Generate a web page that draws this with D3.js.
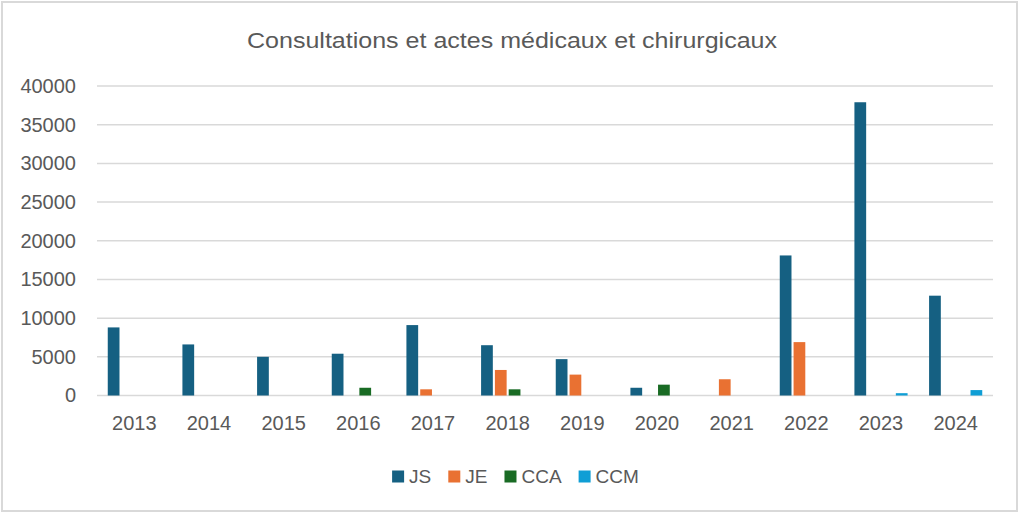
<!DOCTYPE html>
<html>
<head>
<meta charset="utf-8">
<script src="https://cdn.jsdelivr.net/npm/d3@7"></script>
<style>
  body { margin: 0; background: #fff; }
  svg { display: block; }
  text { font-family: "Liberation Sans", Arial, sans-serif; fill: #595959; }
</style>
</head>
<body>
<svg width="1024" height="515"></svg>
<script>
// Data
const years = ['2013', '2014', '2015', '2016', '2017', '2018', '2019', '2020', '2021', '2022', '2023', '2024'];
const seriesNames = ['JS', 'JE', 'CCA', 'CCM'];
const jsValues  = [8800, 6600, 5000, 5400, 9100, 6500, 4700, 1000, 0, 18100, 37900, 12900];
const jeValues  = [0, 0, 0, 0, 800, 3300, 2700, 0, 2100, 6900, 0, 0];
const ccaValues = [0, 0, 0, 1000, 0, 800, 0, 1400, 0, 0, 0, 0];
const ccmValues = [0, 0, 0, 0, 0, 0, 0, 0, 0, 0, 300, 700];
const yTicks = [0, 5000, 10000, 15000, 20000, 25000, 30000, 35000, 40000];
const colors = ['#156082', '#E97132', '#196B24', '#0F9ED5'];

const svg = d3.select('svg');
const width = +svg.attr('width');
const height = +svg.attr('height');

// Chart border (drawn as a path)
svg.append('path')
    .attr('d', 'M2,2H1017V511H2Z')
    .attr('fill', 'none')
    .attr('stroke', '#d9d9d9')
    .attr('stroke-width', 2);

const margin = { left: 97, right: 31, top: 86, bottom: 119.5 };
const innerWidth = width - margin.left - margin.right;
const innerHeight = height - margin.top - margin.bottom;

const g = svg.append('g')
    .attr('transform', `translate(${margin.left},${margin.top})`);

// Build a table for the grouped bars
const allValues = [jsValues, jeValues, ccaValues, ccmValues];
const table = years.map((y, i) => ({
    year: y,
    values: seriesNames.map((s, k) => ({ key: s, value: allValues[k][i] }))
}));

const xScale = d3.scaleBand()
    .domain(years)
    .range([0, innerWidth])
    .paddingInner(0.288)
    .paddingOuter(0.144);

const x1 = d3.scaleBand()
    .domain(seriesNames)
    .range([0, xScale.bandwidth()])
    .paddingInner(0.15);

const yScale = d3.scaleLinear()
    .domain([0, 40000])
    .range([innerHeight, 0]);

const colorScale = d3.scaleOrdinal().domain(seriesNames).range(colors);

// Horizontal gridlines
g.append('g')
    .selectAll('line')
    .data(yTicks)
    .enter()
    .append('line')
    .attr('x1', 0)
    .attr('x2', innerWidth)
    .attr('y1', d => yScale(d))
    .attr('y2', d => yScale(d))
    .attr('stroke', '#d9d9d9')
    .attr('stroke-width', 1.5);

// Y axis labels
const yAxis = d3.axisLeft(yScale)
    .tickValues(yTicks)
    .tickFormat(d3.format('d'))
    .tickSize(0)
    .tickPadding(21);
const yAxisGroup = g.append('g')
    .call(yAxis)
    .attr('font-size', 20)
    .attr('font-family', '"Liberation Sans", Arial, sans-serif');
yAxisGroup.select('.domain').remove();
yAxisGroup.selectAll('.tick line').remove();
yAxisGroup.selectAll('.tick text')
    .attr('fill', '#595959');

// X axis labels
const xAxis = d3.axisBottom(xScale).tickSize(0).tickPadding(20);
const xAxisGroup = g.append('g')
    .attr('transform', `translate(0, ${innerHeight})`)
    .call(xAxis)
    .attr('font-size', 20)
    .attr('font-family', '"Liberation Sans", Arial, sans-serif');
xAxisGroup.select('.domain').remove();
xAxisGroup.selectAll('.tick line').remove();
xAxisGroup.selectAll('.tick text')
    .attr('fill', '#595959');

// Bars
g.selectAll('.group')
    .data(table)
    .enter()
    .append('g')
    .attr('class', 'group')
    .attr('transform', d => `translate(${xScale(d.year)},0)`)
    .selectAll('rect')
    .data(d => d.values.filter(v => v.value > 0))
    .enter()
    .append('rect')
    .attr('x', d => x1(d.key))
    .attr('y', d => yScale(d.value))
    .attr('width', x1.bandwidth())
    .attr('height', d => innerHeight - yScale(d.value))
    .attr('fill', d => colorScale(d.key));

// Title
svg.append('text')
    .attr('x', 512)
    .attr('y', 48)
    .attr('text-anchor', 'middle')
    .attr('font-size', 22)
    .attr('textLength', 530)
    .attr('lengthAdjust', 'spacingAndGlyphs')
    .text('Consultations et actes médicaux et chirurgicaux');

// Legend
const legend = svg.append('g');
let lx = 0;
seriesNames.forEach(name => {
    const item = legend.append('g').attr('transform', `translate(${lx},0)`);
    item.append('rect')
        .attr('x', 0).attr('y', -12)
        .attr('width', 12).attr('height', 12)
        .attr('fill', colorScale(name));
    const t = item.append('text')
        .attr('x', 17)
        .attr('y', 0)
        .attr('font-size', 19)
        .text(name);
    lx += 17 + t.node().getComputedTextLength() + 17;
});
const legendWidth = lx - 17;
legend.attr('transform', `translate(${515.5 - legendWidth / 2}, 482.5)`);
</script>
</body>
</html>
